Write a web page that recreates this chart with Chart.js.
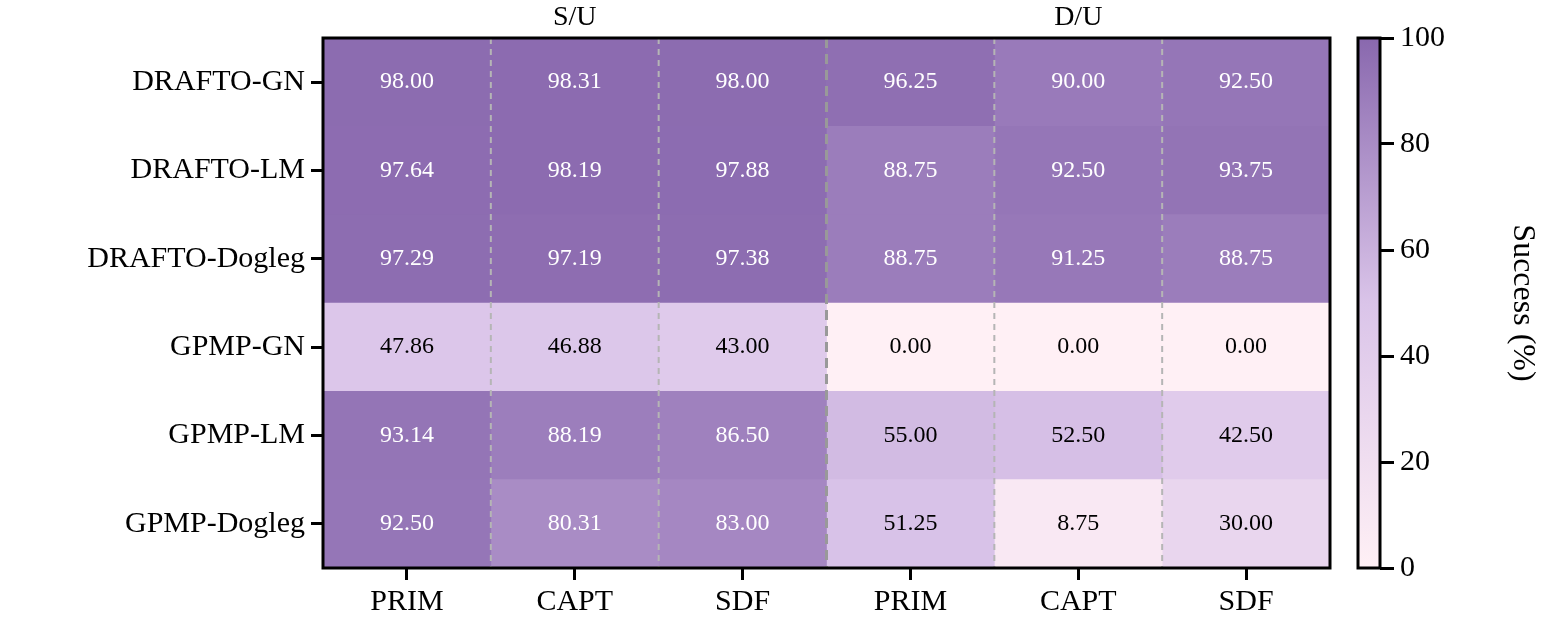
<!DOCTYPE html>
<html>
<head>
<meta charset="utf-8">
<script src="https://cdn.jsdelivr.net/npm/chart.js@4"></script>
<style>
  body { margin: 0; background: #fff; }
  #wrap { position: relative; width: 1556px; height: 633px; }
  #heat { position: absolute; left: 0; top: 0; }
  #bar { position: absolute; left: 1340px; top: 0; }
</style>
</head>
<body>
<div id="wrap">
  <canvas id="heat" width="1340" height="633"></canvas>
  <canvas id="bar" width="216" height="633"></canvas>
</div>
<script>
const rows = ["DRAFTO-GN", "DRAFTO-LM", "DRAFTO-Dogleg", "GPMP-GN", "GPMP-LM", "GPMP-Dogleg"];
const cols = ["PRIM", "CAPT", "SDF", "PRIM", "CAPT", "SDF"];
const groups = ["S/U", "D/U"];
// values[col][row]
const values = [
  [98.00, 97.64, 97.29, 47.86, 93.14, 92.50],
  [98.31, 98.19, 97.19, 46.88, 88.19, 80.31],
  [98.00, 97.88, 97.38, 43.00, 86.50, 83.00],
  [96.25, 88.75, 88.75, 0.00, 55.00, 51.25],
  [90.00, 92.50, 91.25, 0.00, 52.50, 8.75],
  [92.50, 93.75, 88.75, 0.00, 42.50, 30.00]
];
const colorTicks = [0, 20, 40, 60, 80, 100];

const FONT = "'Liberation Serif', 'DejaVu Serif', serif";
const stops = [[0, [255, 240, 245]], [0.5, [218, 196, 233]], [1, [137, 104, 174]]];

function colorFor(v) {
  const t = Math.max(0, Math.min(1, v / 100));
  let i = t <= 0.5 ? 0 : 1;
  const a = stops[i], b = stops[i + 1];
  const f = (t - a[0]) / (b[0] - a[0]);
  const c = a[1].map((x, k) => Math.round(x + (b[1][k] - x) * f));
  return `rgb(${c[0]},${c[1]},${c[2]})`;
}

const datasets = values.map((col, c) => ({
  data: col.map(() => [c, c + 1]),
  backgroundColor: col.map(colorFor),
  borderWidth: 0,
  barPercentage: 1,
  categoryPercentage: 1,
  grouped: false
}));

const heatPlugin = {
  id: "heatText",
  afterDatasetsDraw(chart) {
    const ctx = chart.ctx, xs = chart.scales.x, ys = chart.scales.y, area = chart.chartArea;
    ctx.save();
    // column separators
    for (let k = 1; k < cols.length; k++) {
      const px = xs.getPixelForValue(k);
      ctx.beginPath();
      ctx.setLineDash(k === 3 ? [10, 6] : [6, 5]);
      ctx.lineWidth = k === 3 ? 3 : 2;
      ctx.strokeStyle = k === 3 ? "#999" : "#b5b5b5";
      ctx.moveTo(px, area.top);
      ctx.lineTo(px, area.bottom);
      ctx.stroke();
    }
    ctx.setLineDash([]);
    // cell labels
    ctx.font = "24px " + FONT;
    ctx.textAlign = "center";
    ctx.textBaseline = "middle";
    values.forEach((col, c) => {
      col.forEach((v, r) => {
        ctx.fillStyle = v > 60 ? "#fff" : "#000";
        ctx.fillText(v.toFixed(2), xs.getPixelForValue(c + 0.5), ys.getPixelForValue(r));
      });
    });
    // group titles
    ctx.fillStyle = "#000";
    ctx.font = "28px " + FONT;
    ctx.fillText(groups[0], xs.getPixelForValue(1.5), 18);
    ctx.fillText(groups[1], xs.getPixelForValue(4.5), 18);
    // frame
    ctx.lineWidth = 3;
    ctx.strokeStyle = "#000";
    ctx.strokeRect(area.left, area.top, area.right - area.left, area.bottom - area.top);
    ctx.restore();
  }
};

new Chart(document.getElementById("heat"), {
  type: "bar",
  data: { labels: rows, datasets: datasets },
  options: {
    indexAxis: "y",
    responsive: false,
    animation: false,
    layout: { padding: { top: 38, right: 10 } },
    plugins: { legend: { display: false }, tooltip: { enabled: false } },
    scales: {
      x: {
        type: "linear", min: 0, max: 6,
        afterBuildTicks(s) { s.ticks = cols.map((_, i) => ({ value: i + 0.5 })); },
        afterFit(s) { s.height = 65; },
        ticks: { callback: (v, i) => cols[i], color: "#000", font: { family: FONT, size: 30 }, padding: 4, maxRotation: 0 },
        grid: { drawOnChartArea: false, tickLength: 12, tickWidth: 3, color: "#000" },
        border: { display: false }
      },
      y: {
        type: "category",
        afterFit(s) { s.width = 323; },
        ticks: { color: "#000", font: { family: FONT, size: 30 }, padding: 6 },
        grid: { offset: false, drawOnChartArea: false, tickLength: 12, tickWidth: 3, color: "#000" },
        border: { display: false }
      }
    }
  },
  plugins: [heatPlugin]
});

const gradPlugin = {
  id: "grad",
  beforeDatasetsDraw(chart) {
    const area = chart.chartArea;
    const g = chart.ctx.createLinearGradient(0, area.bottom, 0, area.top);
    stops.forEach(s => g.addColorStop(s[0], colorFor(s[0] * 100)));
    chart.data.datasets[0].backgroundColor = g;
    chart.getDatasetMeta(0).data.forEach(el => el.options.backgroundColor = g);
  },
  afterDatasetsDraw(chart) {
    const area = chart.chartArea, ctx = chart.ctx;
    ctx.save();
    ctx.lineWidth = 3;
    ctx.strokeStyle = "#000";
    ctx.strokeRect(area.left, area.top, area.right - area.left, area.bottom - area.top);
    ctx.restore();
  }
};

new Chart(document.getElementById("bar"), {
  type: "bar",
  data: { labels: [""], datasets: [{ data: [[0, 100]], backgroundColor: "#ccc", barPercentage: 1, categoryPercentage: 1, borderWidth: 0 }] },
  options: {
    responsive: false,
    animation: false,
    layout: { padding: { top: 38, left: 18 } },
    plugins: { legend: { display: false }, tooltip: { enabled: false } },
    scales: {
      x: { display: false, afterFit(s) { s.height = 65; } },
      y: {
        position: "right", min: 0, max: 100,
        afterBuildTicks(s) { s.ticks = colorTicks.map(v => ({ value: v })); },
        afterFit(s) { s.width = 176; },
        ticks: { color: "#000", font: { family: FONT, size: 30 }, padding: 6 },
        grid: { drawOnChartArea: false, tickLength: 14, tickWidth: 3, color: "#000" },
        border: { display: false },
        title: { display: true, text: "Success (%)", color: "#000", font: { family: FONT, size: 32 }, padding: { top: 14 } }
      }
    }
  },
  plugins: [gradPlugin]
});
</script>
</body>
</html>
